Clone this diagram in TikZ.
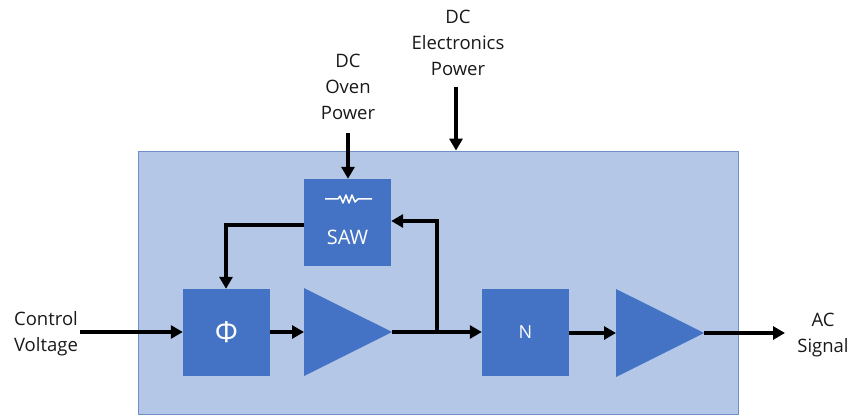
\documentclass[tikz,border=0pt]{standalone}
\usepackage{fontspec}
\setmainfont{Open Sans}
\usetikzlibrary{arrows.meta,shapes.geometric,calc}
\definecolor{panelblue}{HTML}{B4C7E7}
\definecolor{panelline}{HTML}{6F8FC9}
\definecolor{boxblue}{HTML}{4472C4}
\tikzset{
  x=1pt,y=-1pt,
  panel/.style={draw=panelline,line width=0.8pt,fill=panelblue,minimum width=600pt,minimum height=263pt,inner sep=0pt},
  blockbox/.style={fill=boxblue,minimum width=87pt,minimum height=87pt,inner sep=0pt,text=white,font=\fontsize{18}{20}\selectfont},
  amp/.style={fill=boxblue,isosceles triangle,isosceles triangle apex angle=53.13,minimum height=88pt,minimum width=88pt,inner sep=0pt,outer sep=0pt,anchor=apex},
  label/.style={align=center,font=\fontsize{18.5}{26}\selectfont,inner sep=0pt,text=black!90},
  wire/.style={line width=3.3pt,draw=black},
  arrowwire/.style={wire,-{Triangle[width=13pt,length=12pt]}},
  symbol/.style={draw=white,line width=1.5pt,line join=round}
}
\begin{document}
\begin{tikzpicture}
\useasboundingbox (0,0) rectangle (852,417);
\node[panel] (panel) at (438,282.5) {};
\node[blockbox] (saw) at (347.5,222.5) {};
\node[blockbox] (phi) at (226.5,332.5) {\fontsize{29}{31}\selectfont Φ};
\node[blockbox] (n) at (525.5,332.5) {N};
\node[amp] (ampa) at (392,332) {};
\node[amp] (ampb) at (704,333) {};
\node[text=white,font=\fontsize{20}{22}\selectfont,inner sep=0pt] (sawlabel) at (347.5,237) {SAW};
\coordinate (resl) at (325,199);
\coordinate (resr) at (372,199);
\draw[symbol] (resl) -- (338,199) -- (340,196) -- (343,203) -- (346,195) -- (349,203) -- (352,195) -- (355,202) -- (358,199) -- (resr);
\node[label] (ctrl) at (46,334) {Control\\Voltage};
\node[label] (oven) at (348,87) {DC\\Oven\\Power};
\node[label] (elec) at (458,43) {DC\\Electronics\\Power};
\node[label] (ac) at (823,335) {AC\\Signal};
\coordinate (ctrlend) at (80,332);
\coordinate (ovenend) at (348,133);
\coordinate (elecend) at (456,87);
\coordinate (acend) at (785,333);
\coordinate (junction) at (437,332);
\coordinate (fbtop) at (437,221);
\coordinate (sawleft) at (226,225);
\draw[arrowwire] (elecend) -- (elecend |- panel.north);
\draw[arrowwire] (ovenend) -- (saw.north -| ovenend);
\draw[arrowwire] (ctrlend) -- (phi.west |- ctrlend);
\draw[arrowwire] (phi.east |- ampa.apex) -- (ampa.lower side |- ampa.apex);
\draw[arrowwire] (ampa.apex) -- (n.west |- ampa.apex);
\draw[arrowwire] (junction) -- (fbtop) -- (saw.east |- fbtop);
\draw[arrowwire] (saw.west |- sawleft) -- (sawleft) -- (sawleft |- phi.north);
\draw[arrowwire] (n.east |- ampb.apex) -- (ampb.lower side |- ampb.apex);
\draw[arrowwire] (ampb.apex) -- (acend);
\end{tikzpicture}
\end{document}
